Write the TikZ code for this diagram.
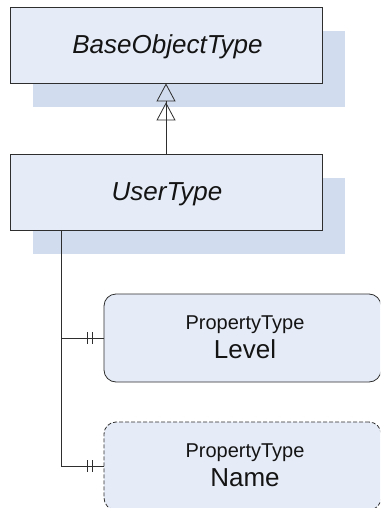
\documentclass[tikz,border=0pt]{standalone}
\usepackage{fontspec}
\setmainfont{Liberation Sans}
\usetikzlibrary{arrows.meta,backgrounds}

\definecolor{boxfill}{HTML}{E6ECF7}
\definecolor{shadowfill}{HTML}{D1DCEE}
\definecolor{edge}{HTML}{2E2E2E}
\definecolor{ink}{HTML}{141414}

\tikzset{
  classbox/.style={draw=edge, line width=0.8pt, fill=boxfill,
    minimum width=312pt, minimum height=76pt, inner sep=0pt},
  propbox/.style={draw=edge, line width=0.8pt, fill=boxfill, rounded corners=12pt,
    minimum width=277pt, minimum height=88pt, inner sep=0pt},
  optional/.style={dash pattern=on 4pt off 2pt},
  classname/.style={anchor=base, inner sep=0pt, text=ink,
    font=\fontsize{26}{30}\selectfont\itshape},
  kindname/.style={anchor=base, inner sep=0pt, text=ink,
    font=\fontsize{20}{24}\selectfont},
  propname/.style={anchor=base, inner sep=0pt, text=ink,
    font=\fontsize{26}{30}\selectfont},
  link/.style={draw=edge, line width=0.8pt},
  inherit/.style={link, -{Triangle[open,length=18pt,width=19pt,sep=1pt] Triangle[open,length=18pt,width=19pt]}},
}

\begin{document}
\begin{tikzpicture}[x=1pt, y=-1pt]
  \useasboundingbox (0,0) rectangle (380,508);
  \clip (0,0) rectangle (380,508);

  % class boxes
  \node[classbox] (base) at (166,45) {};
  \node[classbox] (user) at (166,192) {};
  \node[classname] (basetxt) at (167.5,54) {BaseObjectType};
  \node[classname] (usertxt) at (167,200) {UserType};

  % drop shadows behind the class boxes
  \begin{scope}[on background layer]
    \fill[shadowfill] ([shift={(23,24)}]base.north west) rectangle ([shift={(23,24)}]base.south east);
    \fill[shadowfill] ([shift={(23,24)}]user.north west) rectangle ([shift={(23,24)}]user.south east);
  \end{scope}

  % property boxes
  \node[propbox] (level) at (242.5,338) {};
  \node[propbox, optional] (name) at (242.5,466) {};
  \node[kindname] (levelkind) at (245,329) {PropertyType};
  \node[propname] (leveltxt) at (245,358) {Level};
  \node[kindname] (namekind) at (245,457) {PropertyType};
  \node[propname] (nametxt) at (245,486) {Name};

  % inheritance
  \draw[inherit] (user.north) -- (base.south);

  % property references
  \coordinate (trunk) at ([xshift=52pt]user.south west);
  \draw[link] (trunk) |- (level.west);
  \draw[link] (trunk) |- (name.west);
  \foreach \p in {level, name} {
    \draw[link] ([shift={(-11,-6)}]\p.west) -- ++(0,12);
    \draw[link] ([shift={(-16,-6)}]\p.west) -- ++(0,12);
  }
\end{tikzpicture}
\end{document}
